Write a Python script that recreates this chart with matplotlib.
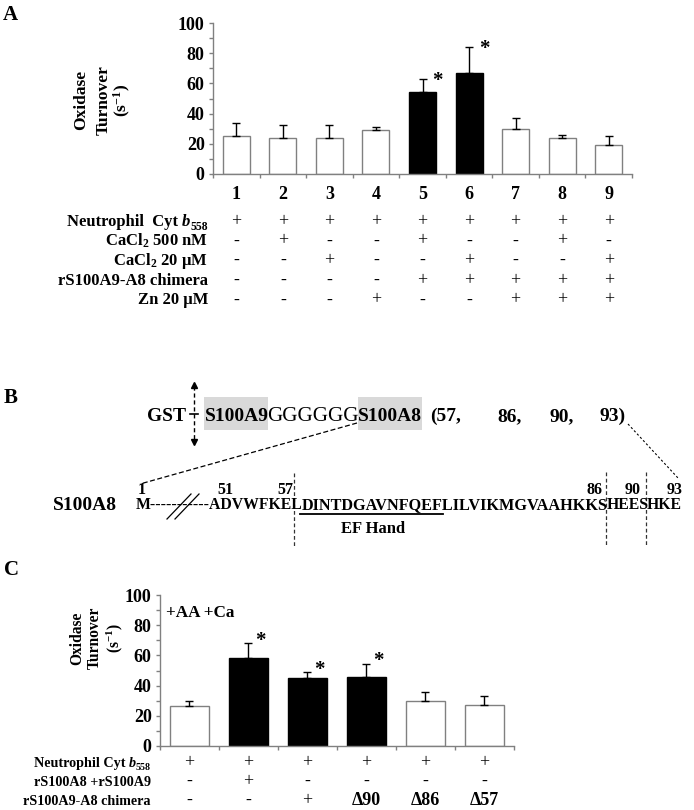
import numpy as np
import matplotlib
matplotlib.use('Agg')
import matplotlib.pyplot as plt
from matplotlib.transforms import blended_transform_factory
from matplotlib.ticker import MultipleLocator
from matplotlib.patches import Rectangle

plt.rcParams['font.family'] = ['Liberation Serif', 'DejaVu Serif']
plt.rcParams['font.weight'] = 'bold'
plt.rcParams['mathtext.fontset'] = 'custom'
plt.rcParams['mathtext.rm'] = 'Liberation Serif:bold'
plt.rcParams['mathtext.it'] = 'Liberation Serif:italic:bold'
plt.rcParams['mathtext.bf'] = 'Liberation Serif:bold'

# ---------------- data: panel A ----------------
lanes_A = ['1', '2', '3', '4', '5', '6', '7', '8', '9']
turnover_A = [25, 24, 24, 29, 54, 67, 30, 24, 19]
err_A = [9, 8.5, 8.5, 2, 9, 17, 7, 2, 6]
fill_A = ['white', 'white', 'white', 'white', 'black', 'black', 'white', 'white', 'white']
sig_A = [False, False, False, False, True, True, False, False, False]
rowlabels_A = ['CYT', 'CaCl$_2$ 500 nM', 'CaCl$_2$ 20 µM', 'rS100A9-A8 chimera', 'Zn 20 µM']
signs_A = [
    ['+', '+', '+', '+', '+', '+', '+', '+', '+'],
    ['-', '+', '-', '-', '+', '-', '-', '+', '-'],
    ['-', '-', '+', '-', '-', '+', '-', '-', '+'],
    ['-', '-', '-', '-', '+', '+', '+', '+', '+'],
    ['-', '-', '-', '+', '-', '-', '+', '+', '+'],
]

# ---------------- data: panel C ----------------
turnover_C = [26.5, 58, 45, 45.5, 29.5, 27]
err_C = [3, 10, 3.7, 9, 6.5, 6.3]
fill_C = ['white', 'black', 'black', 'black', 'white', 'white']
sig_C = [False, True, True, True, False, False]
rowlabels_C = ['CYT', 'rS100A8 +rS100A9', 'rS100A9-A8 chimera']
signs_C = [
    ['+', '+', '+', '+', '+', '+'],
    ['-', '+', '-', '-', '-', '-'],
    ['-', '-', '+', 'Δ90', 'Δ86', 'Δ57'],
]

# ---------------- figure ----------------
W, H = 694, 810
fig = plt.figure(figsize=(W / 100, H / 100), dpi=100)
ov = fig.add_axes([0, 0, 1, 1])
ov.set_xlim(0, W)
ov.set_ylim(H, 0)
ov.axis('off')
renderer = fig.canvas.get_renderer()

GRAY = '#808080'


def make_axes(left, right, bottom, top):
    return fig.add_axes([left / W, (H - bottom) / H, (right - left) / W, (bottom - top) / H])


def style_bar_axes(ax, n):
    ax.set_xlim(0.5, n + 0.5)
    ax.set_ylim(0, 100)
    ax.yaxis.set_major_locator(MultipleLocator(20))
    ax.yaxis.set_minor_locator(MultipleLocator(10))
    ax.set_xticks(np.arange(0.5, n + 1, 1))
    ax.set_xticklabels([])
    for s in ['top', 'right']:
        ax.spines[s].set_visible(False)
    for s in ['left', 'bottom']:
        ax.spines[s].set_color(GRAY)
        ax.spines[s].set_linewidth(1.0)
    ax.tick_params(axis='both', which='both', direction='out', color=GRAY, width=1.0)
    ax.tick_params(axis='y', which='major', length=3, pad=3, labelsize=13)
    ax.tick_params(axis='y', which='minor', length=3)
    ax.tick_params(axis='x', which='major', length=3)
    for lab in ax.get_yticklabels():
        lab.set_fontweight('bold')
    ax.patch.set_alpha(0)


def draw_bars(ax, vals, errs, fills, width):
    x = np.arange(1, len(vals) + 1)
    edges = [GRAY if f == 'white' else 'black' for f in fills]
    ax.bar(x, vals, width=width, color=fills, edgecolor=edges, linewidth=1.0, zorder=2)
    ax.errorbar(x, vals, yerr=[np.zeros(len(errs)), errs], fmt='none', ecolor='black',
                elinewidth=1.0, capsize=2.8, capthick=1.0, zorder=3)
    return x


def row_label(x_right, yb, text, fs=12, gap='  '):
    if text != 'CYT':
        ov.text(x_right, yb, text, ha='right', va='baseline', fontsize=fs, fontweight='bold')
        return
    t_sub = ov.text(x_right, yb + 3.5, '558', ha='right', va='baseline', fontsize=fs * 0.7,
                    fontweight='bold')
    w_sub = t_sub.get_window_extent(renderer).width
    t_b = ov.text(x_right - w_sub - 0.5, yb, 'b', ha='right', va='baseline', fontsize=fs,
                  fontweight='bold', style='italic')
    w_b = t_b.get_window_extent(renderer).width
    ov.text(x_right - w_sub - w_b - fs * 0.35, yb, 'Neutrophil' + gap + 'Cyt', ha='right',
            va='baseline', fontsize=fs, fontweight='bold')


# ---------------- Panel A ----------------
axA = make_axes(213, 632, 174, 23)
style_bar_axes(axA, len(turnover_A))
xA = draw_bars(axA, turnover_A, err_A, fill_A, 0.58)
for xi, v, e, s in zip(xA, turnover_A, err_A, sig_A):
    if s:
        axA.text(xi + 0.33, v + e - 1.5, '*', ha='center', va='center', fontsize=15, fontweight='bold')

trA = blended_transform_factory(axA.transData, ov.transData)
for xi, lab in zip(xA, lanes_A):
    ov.text(xi, 199, lab, transform=trA, ha='center', va='baseline', fontsize=13, fontweight='bold')

rowbase_A = [226.5, 245.5, 265, 285, 304.5]
for yb, lab, signs in zip(rowbase_A, rowlabels_A, signs_A):
    row_label(208, yb, lab, fs=12, gap='  ')
    for xi, sg in zip(xA, signs):
        ov.text(xi, yb, sg, transform=trA, ha='center', va='baseline', fontsize=13, fontweight='normal')

for xc, t in zip([81, 104, 122], ['Oxidase', 'Turnover', '(s$^{-1}$)']):
    ov.text(xc, 100, t, rotation=90, ha='center', va='center', fontsize=12.5, fontweight='bold')

ov.text(3, 20, 'A', ha='left', va='baseline', fontsize=15, fontweight='bold')

# ---------------- Panel C ----------------
axC = make_axes(160, 514, 746, 595)
style_bar_axes(axC, len(turnover_C))
xC = draw_bars(axC, turnover_C, err_C, fill_C, 0.66)
for xi, v, e, s in zip(xC, turnover_C, err_C, sig_C):
    if s:
        axC.text(xi + 0.2, v + e + 1.5, '*', ha='center', va='center', fontsize=15, fontweight='bold')
ov.text(166, 617, '+AA +Ca', ha='left', va='baseline', fontsize=12.3, fontweight='bold')

trC = blended_transform_factory(axC.transData, ov.transData)
rowbase_C = [767, 786, 805]
for yb, lab, signs in zip(rowbase_C, rowlabels_C, signs_C):
    row_label(151, yb, lab, fs=10.2, gap=' ')
    for xi, sg in zip(xC, signs):
        ov.text(xi, yb, sg, transform=trC, ha='center', va='baseline', fontsize=13,
                fontweight='bold' if len(sg) > 1 else 'normal')

for xc, t in zip([77, 95, 115], ['Oxidase', 'Turnover', '(s$^{-1}$)']):
    ov.text(xc, 638, t, rotation=90, ha='center', va='center', fontsize=11.2, fontweight='bold')

ov.text(4, 575, 'C', ha='left', va='baseline', fontsize=15, fontweight='bold')

# ---------------- Panel B (schematic) ----------------
ov.text(4, 403, 'B', ha='left', va='baseline', fontsize=15, fontweight='bold')

ov.add_patch(Rectangle((204, 397), 64, 33, facecolor='#d9d9d9', edgecolor='none', zorder=0))
ov.add_patch(Rectangle((358, 397), 64, 33, facecolor='#d9d9d9', edgecolor='none', zorder=0))

ov.text(147, 421, 'GST', ha='left', va='baseline', fontsize=14, fontweight='bold')
ov.text(205, 421, 'S100A9', ha='left', va='baseline', fontsize=14, fontweight='bold')
ov.text(267, 421, 'GGGGGG', ha='left', va='baseline', fontsize=15.2, fontweight='normal')
ov.text(358, 421, 'S100A8', ha='left', va='baseline', fontsize=14, fontweight='bold')
ov.text(430, 421, '(57,', ha='left', va='baseline', fontsize=14, fontweight='bold')
ov.text(497, 421, '86,', ha='left', va='baseline', fontsize=14, fontweight='bold')
ov.text(550, 421, '90,', ha='left', va='baseline', fontsize=14, fontweight='bold')
ov.text(600, 421, '93)', ha='left', va='baseline', fontsize=14, fontweight='bold')

ov.plot([194, 194], [386, 441], color='black', lw=1.0, ls=(0, (3, 2)))
ov.plot([194], [385], marker='^', color='black', ms=5)
ov.plot([194], [442], marker='v', color='black', ms=5)
ov.plot([190, 198], [414, 414], color='black', lw=1.2)

ov.plot([357, 140], [423, 484], color='black', lw=0.9, ls=(0, (4, 2)))
ov.plot([628, 678], [424, 478], color='black', lw=0.8, ls=(0, (2, 2)))

ov.text(53, 510, 'S100A8', ha='left', va='baseline', fontsize=14, fontweight='bold')
ov.text(302, 509, 'M-----------ADVWFKEL', ha='right', va='baseline', fontsize=11.3, fontweight='bold')
ov.text(302, 509, 'DINTDGAVNFQEFLILVIKMGVAAHKKS', ha='left', va='baseline', fontsize=11.7,
        fontweight='bold')
ov.text(607, 509, 'HEES', ha='left', va='baseline', fontsize=11.3, fontweight='bold')
ov.text(647, 509, 'HKE', ha='left', va='baseline', fontsize=11.3, fontweight='bold')

for xc, t in zip([142, 225, 285, 595, 633, 675], ['1', '51', '57', '86', '90', '93']):
    ov.text(xc, 494, t, ha='center', va='baseline', fontsize=11.5, fontweight='bold')

ov.plot([167, 191], [519, 494], color='black', lw=0.9)
ov.plot([175, 199], [519, 494], color='black', lw=0.9)

for xv, y0, y1 in [(294, 473, 548), (606, 472, 545), (646, 472, 545)]:
    ov.plot([xv, xv], [y0, y1], color='#333333', lw=0.9, ls=(0, (3, 2)))

ov.plot([300, 443], [514, 514], color='black', lw=1.3)
ov.text(373, 533, 'EF Hand', ha='center', va='baseline', fontsize=12, fontweight='bold')

fig.savefig('out.png', dpi=100)
